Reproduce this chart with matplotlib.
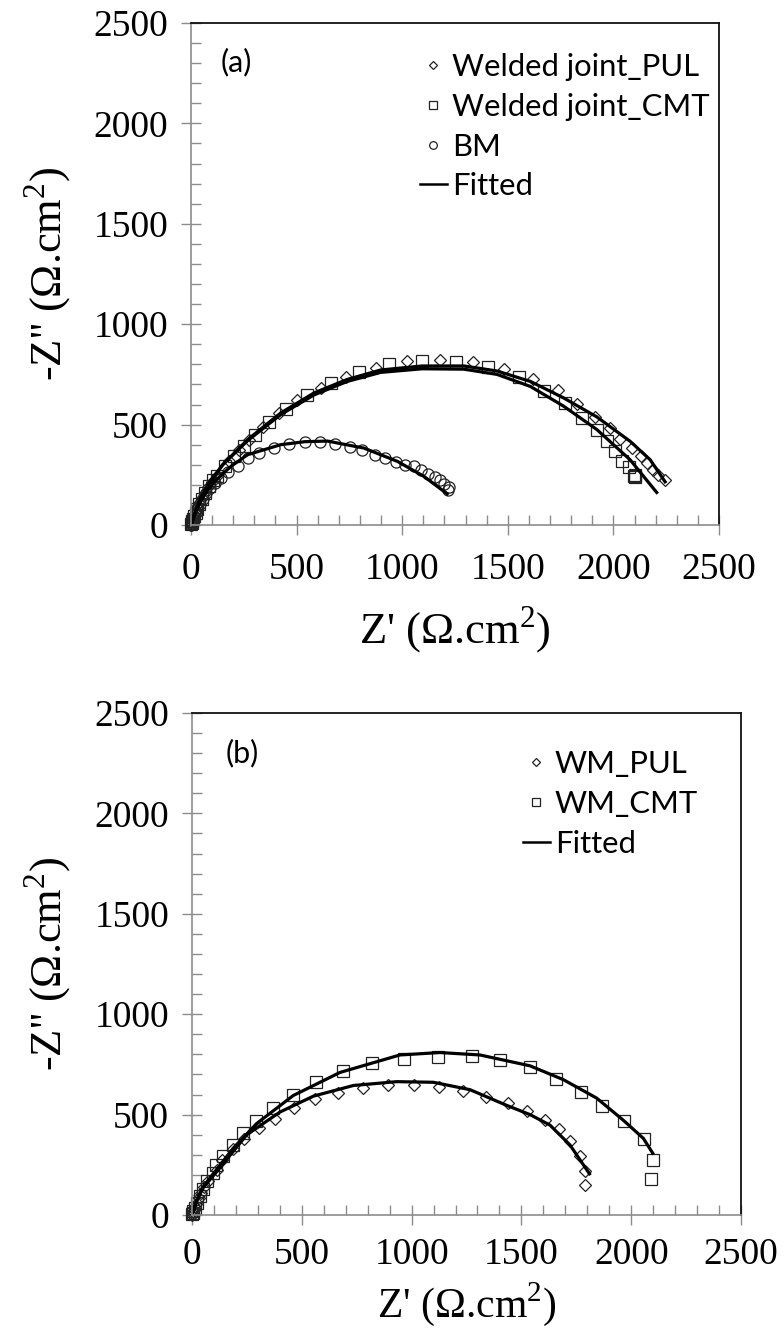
import matplotlib
matplotlib.use("Agg")
import matplotlib.pyplot as plt
from matplotlib.lines import Line2D
from matplotlib.ticker import MultipleLocator

# ---- panel (a) data: Z' , -Z''  (Ohm.cm2) ----
pul_x = [1, 3, 5, 8, 12, 16, 22, 30, 40, 52, 66, 82, 100, 122, 180, 225, 276, 339, 417, 504, 614, 733, 874,
         1024, 1181, 1336, 1481, 1620, 1740, 1827, 1914, 1982, 2032, 2087, 2131, 2158, 2187, 2213, 2245]
pul_y = [2, 5, 12, 22, 35, 50, 68, 88, 110, 135, 160, 188, 215, 245, 320, 372, 425, 487, 558, 622, 683, 737, 783,
         817, 822, 812, 775, 728, 672, 605, 538, 483, 430, 383, 342, 308, 275, 247, 222]

cmt_x = [2, 4, 7, 11, 16, 22, 30, 40, 52, 66, 85, 105, 123, 161, 202, 252, 302, 370, 449, 547, 662, 796, 936,
         1095, 1257, 1405, 1552, 1670, 1772, 1851, 1922, 1972, 2009, 2040, 2072, 2103, 2100, 2097]
cmt_y = [3, 8, 18, 30, 45, 62, 82, 105, 130, 158, 195, 225, 242, 292, 342, 395, 450, 513, 580, 645, 708, 762, 800,
         817, 813, 787, 737, 667, 608, 533, 472, 417, 367, 320, 287, 247, 240, 243]

bm_x = [1, 3, 6, 10, 15, 22, 30, 42, 56, 72, 90, 112, 143, 173, 221, 268, 323, 391, 465, 539, 611, 682, 753,
        811, 871, 918, 969, 1013, 1055, 1090, 1122, 1153, 1178, 1197, 1221, 1215]
bm_y = [2, 6, 14, 25, 40, 58, 80, 105, 130, 158, 185, 210, 232, 262, 292, 333, 358, 383, 403, 412, 412, 405, 388,
        372, 350, 333, 313, 300, 292, 275, 255, 237, 222, 203, 188, 173]

fit_pul_x = [0, 10, 25, 50, 90, 150, 268, 425, 583, 740, 898, 1095, 1292, 1449, 1607, 1764, 1922, 2079, 2174, 2245]
fit_pul_y = [0, 30, 75, 140, 210, 300, 425, 558, 658, 725, 772, 792, 792, 767, 715, 633, 538, 417, 325, 215]

fit_cmt_x = [0, 10, 25, 50, 90, 150, 268, 425, 583, 740, 898, 1095, 1292, 1449, 1607, 1764, 1922, 2079, 2205]
fit_cmt_y = [0, 32, 78, 145, 215, 300, 420, 550, 648, 715, 760, 778, 776, 750, 690, 592, 475, 325, 162]

fit_bm_x = [0, 8, 20, 40, 70, 110, 189, 268, 425, 540, 646, 819, 977, 1103, 1213]
fit_bm_y = [0, 25, 60, 105, 160, 215, 292, 350, 400, 415, 418, 383, 317, 242, 155]

# ---- panel (b) data ----
wpul_x = [1, 3, 6, 10, 15, 22, 30, 42, 56, 75, 112, 135, 185, 238, 305, 378, 464, 560, 663, 777, 894, 1013,
          1125, 1232, 1337, 1437, 1524, 1607, 1673, 1721, 1767, 1790, 1790]
wpul_y = [2, 5, 14, 26, 42, 62, 85, 112, 140, 170, 226, 276, 330, 378, 433, 478, 534, 576, 609, 632, 645, 645,
          637, 618, 588, 558, 518, 472, 428, 371, 292, 218, 150]

wcmt_x = [1, 3, 6, 12, 22, 35, 50, 70, 97, 109, 143, 188, 234, 291, 367, 459, 563, 689, 818, 965, 1122, 1274,
          1403, 1539, 1656, 1770, 1868, 1969, 2058, 2101, 2090]
wcmt_y = [3, 8, 18, 35, 62, 95, 130, 170, 210, 248, 292, 349, 407, 468, 533, 600, 661, 717, 757, 776, 785, 792,
          771, 735, 678, 615, 541, 469, 379, 276, 178]

wfit_pul_x = [0, 10, 25, 50, 112, 249, 401, 553, 735, 932, 1099, 1266, 1433, 1539, 1630, 1721, 1810]
wfit_pul_y = [0, 33, 78, 135, 215, 399, 513, 592, 645, 664, 661, 624, 546, 500, 448, 349, 205]

wfit_cmt_x = [0, 10, 25, 50, 100, 188, 295, 461, 674, 947, 1129, 1311, 1539, 1691, 1843, 1964, 2055, 2098]
wfit_cmt_y = [0, 35, 80, 140, 210, 333, 456, 595, 710, 797, 809, 797, 743, 674, 582, 472, 382, 308]

ticks = [0, 500, 1000, 1500, 2000, 2500]

plt.rcParams['font.family'] = ['Liberation Serif', 'DejaVu Serif']
plt.rcParams['mathtext.fontset'] = 'custom'
plt.rcParams['mathtext.rm'] = 'Liberation Serif'
leg_font = 'Lato'

fig = plt.figure(figsize=(7.84, 13.32), dpi=100)
ax1 = fig.add_axes([191 / 784, 1 - 525 / 1332, 528 / 784, 502 / 1332])
ax2 = fig.add_axes([192 / 784, 1 - 1215 / 1332, 549 / 784, 502 / 1332])

mk = dict(ls='none', mfc='none', mec='#222222', mew=0.9, clip_on=False)
ax1.plot(pul_x, pul_y, marker='D', ms=6.5, **mk)
ax1.plot(cmt_x, cmt_y, marker='s', ms=8, **mk)
ax1.plot(bm_x, bm_y, marker='o', ms=8, **mk)
for fx, fy in [(fit_pul_x, fit_pul_y), (fit_cmt_x, fit_cmt_y), (fit_bm_x, fit_bm_y)]:
    ax1.plot(fx, fy, color='black', lw=2.3)

ax2.plot(wpul_x, wpul_y, marker='D', ms=6.5, **mk)
ax2.plot(wcmt_x, wcmt_y, marker='s', ms=8, **mk)
for fx, fy in [(wfit_pul_x, wfit_pul_y), (wfit_cmt_x, wfit_cmt_y)]:
    ax2.plot(fx, fy, color='black', lw=2.3)


def style_axes(ax):
    ax.set_xlim(0, 2500)
    ax.set_ylim(0, 2500)
    ax.set_xticks(ticks)
    ax.set_yticks(ticks)
    ax.xaxis.set_minor_locator(MultipleLocator(100))
    ax.yaxis.set_minor_locator(MultipleLocator(100))
    ax.tick_params(which='major', direction='inout', length=15, width=1, color='#8c8c8c',
                   labelsize=27)
    ax.tick_params(axis='x', which='major', pad=12)
    ax.tick_params(axis='y', which='major', pad=9)
    ax.tick_params(which='minor', direction='in', length=7, width=1, color='#8c8c8c')
    for s in ['left', 'bottom']:
        ax.spines[s].set_color('#8c8c8c')
        ax.spines[s].set_linewidth(1.2)
    for s in ['top', 'right']:
        ax.spines[s].set_color('#111111')
        ax.spines[s].set_linewidth(1.3)
    ax.set_xlabel("Z' (Ω.cm$^2$)", fontsize=32)
    ax.set_ylabel("-Z'' (Ω.cm$^2$)", fontsize=32)
    ax.xaxis.label.set_va('center')
    ax.yaxis.label.set_va('center')


style_axes(ax1)
style_axes(ax2)
ax2.tick_params(axis='x', which='major', pad=9)
ax2.xaxis.label.set_fontsize(30)
ax1.xaxis.set_label_coords(0.5, (525 - 630) / 502)
ax1.yaxis.set_label_coords((48 - 191) / 528, 0.5)
ax2.xaxis.set_label_coords(0.5, (1215 - 1304) / 502)
ax2.yaxis.set_label_coords((48 - 192) / 549, 0.5)

ax1.text((221 - 191) / 528, (525 - 62) / 502, '(a)', transform=ax1.transAxes, fontsize=22,
         family=leg_font, va='center')
ax2.text((226 - 192) / 549, (1215 - 753) / 502, '(b)', transform=ax2.transAxes, fontsize=22,
         family=leg_font, va='center')

# legends (small markers like the original)
lk = dict(ls='none', mfc='none', mec='#222222', mew=0.9)
h_pul = Line2D([], [], marker='D', ms=4.5, **lk)
h_cmt = Line2D([], [], marker='s', ms=5.5, **lk)
h_bm = Line2D([], [], marker='o', ms=5.5, **lk)
h_fit = Line2D([], [], color='black', lw=1.8)

leg_kw = dict(loc='upper left', frameon=False, borderpad=0, borderaxespad=0, handlelength=0.87,
              handletextpad=0.16, labelspacing=0.38, prop={'family': leg_font, 'size': 22.3})
ax1.legend([h_pul, h_cmt, h_bm, h_fit], ['Welded joint_PUL', 'Welded joint_CMT', 'BM', 'Fitted'],
           bbox_to_anchor=((420 - 191) / 528, (525 - 53) / 502), **leg_kw)
ax2.legend([h_pul, h_cmt, h_fit], ['WM_PUL', 'WM_CMT', 'Fitted'],
           bbox_to_anchor=((523 - 192) / 549, (1215 - 750) / 502), **leg_kw)

fig.savefig('out.png', dpi=100)
